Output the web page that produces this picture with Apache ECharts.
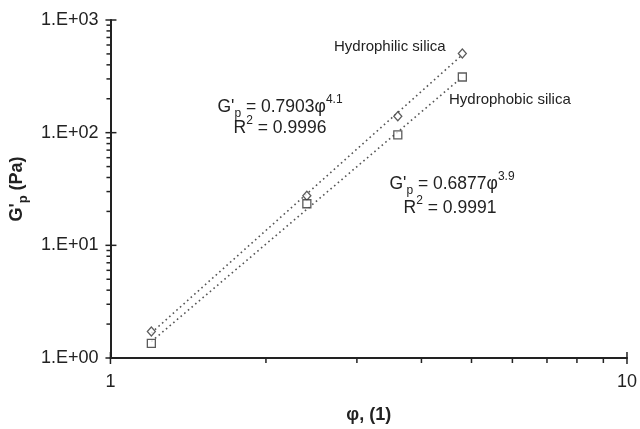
<!DOCTYPE html>
<html>
<head>
<meta charset="utf-8">
<script src="https://cdn.jsdelivr.net/npm/echarts@6/dist/echarts.min.js"></script>
<style>html,body{margin:0;padding:0;background:#fff}#c{width:640px;height:429px}</style>
</head>
<body>
<div id="c"></div>
<script>
// ---- data ----
const phi = [1.2, 2.4, 3.6, 4.8];
const hydrophilic = [1.72, 27.5, 140, 505];
const hydrophobic = [1.35, 23.4, 95.5, 312];
// trend-line end points (as drawn)
const fitPhi = [1.2, 4.8];
const fitHydrophilic = [1.67, 491];
const fitHydrophobic = [1.40, 312];
// ticks
const xMajor = [1, 10];
const xMinor = [2, 3, 4, 5, 6, 7, 8, 9];
const yMajor = [1, 10, 100, 1000];
const yMinor = [2,3,4,5,6,7,8,9, 20,30,40,50,60,70,80,90, 200,300,400,500,600,700,800,900];
const yTickLabels = ['1.E+00', '1.E+01', '1.E+02', '1.E+03'];
const xTickLabels = ['1', '10'];

const FONT = '"Liberation Sans", Arial, sans-serif';
const INK = '#222';

const chart = echarts.init(document.getElementById('c'), null, {renderer: 'canvas'});

function tickSeries(data, kind) {
  return {
    type: 'custom',
    silent: true,
    clip: false,
    z: 5,
    data: data,
    renderItem: function (params, api) {
      const p = api.coord([api.value(0), api.value(1)]);
      let shape;
      if (kind === 'xMajor') shape = {x1: p[0], y1: p[1] - 6, x2: p[0], y2: p[1] + 6};
      else if (kind === 'xMinor') shape = {x1: p[0], y1: p[1], x2: p[0], y2: p[1] + 5};
      else if (kind === 'yMajor') shape = {x1: p[0] - 5, y1: p[1], x2: p[0] + 6, y2: p[1]};
      else shape = {x1: p[0] - 4, y1: p[1], x2: p[0], y2: p[1]};
      return {type: 'line', shape: shape, style: {stroke: INK, lineWidth: 1.5}};
    }
  };
}

const EQ = 17.5;
const supText = {fontSize: 12, fontFamily: FONT, color: INK, lineHeight: 14, verticalAlign: 'top'};
const subText = {fontSize: 12, fontFamily: FONT, color: INK, lineHeight: 14, verticalAlign: 'bottom'};

function txt(x, y, text, rich, align, size) {
  return {
    type: 'text', x: x, y: y, z: 10,
    style: {
      text: text, rich: rich, align: align || 'left', verticalAlign: 'middle',
      fontSize: size || 15, fontFamily: FONT, fill: INK
    }
  };
}
const eqRich = {n: {fontSize: EQ, fontFamily: FONT, color: INK, lineHeight: 26}, sup: supText, sub: subText};

const option = {
  animation: false,
  backgroundColor: '#fff',
  grid: {left: 98, right: 11, top: 20, bottom: 65, containLabel: false},
  xAxis: {
    type: 'log', logBase: 10, min: 1, max: 10,
    axisLine: {show: true, lineStyle: {color: INK, width: 2}},
    axisTick: {show: false},
    splitLine: {show: false},
    minorTick: {show: false},
    axisLabel: {
      fontSize: 18, fontFamily: FONT, color: INK, margin: 15,
      showMinLabel: true, showMaxLabel: true,
      formatter: function (v) { return xTickLabels[Math.round(Math.log10(v))]; }
    },
    name: 'φ, (1)', nameLocation: 'middle', nameGap: 48,
    nameTextStyle: {fontSize: 18, fontWeight: 'bold', fontFamily: FONT, color: INK}
  },
  yAxis: {
    type: 'log', logBase: 10, min: 1, max: 1000,
    axisLine: {show: true, lineStyle: {color: INK, width: 2}},
    axisTick: {show: false},
    splitLine: {show: false},
    minorTick: {show: false},
    axisLabel: {
      fontSize: 18, fontFamily: FONT, color: INK, margin: 12,
      showMinLabel: true, showMaxLabel: true,
      formatter: function (v) { return yTickLabels[Math.round(Math.log10(v))]; }
    },
    name: "{a|G'}{s|p}{a| (Pa)}", nameLocation: 'middle', nameGap: 66, nameRotate: 90,
    nameTextStyle: {
      rich: {
        a: {fontSize: 18, fontWeight: 'bold', fontFamily: FONT, color: INK, lineHeight: 26},
        s: {fontSize: 13, fontWeight: 'bold', fontFamily: FONT, color: INK, lineHeight: 14, verticalAlign: 'bottom'}
      }
    }
  },
  series: [
    {
      name: 'Hydrophilic fit', type: 'line', showSymbol: false, silent: true, z: 2,
      data: fitPhi.map((x, i) => [x, fitHydrophilic[i]]),
      lineStyle: {color: '#555', width: 1.6, type: [1.6, 3.2]}
    },
    {
      name: 'Hydrophobic fit', type: 'line', showSymbol: false, silent: true, z: 2,
      data: fitPhi.map((x, i) => [x, fitHydrophobic[i]]),
      lineStyle: {color: '#555', width: 1.6, type: [1.6, 3.2]}
    },
    {
      name: 'Hydrophilic silica', type: 'scatter', z: 4,
      symbol: 'diamond', symbolSize: [8, 9],
      data: phi.map((x, i) => [x, hydrophilic[i]]),
      itemStyle: {color: '#fff', borderColor: '#333', borderWidth: 1.3}
    },
    {
      name: 'Hydrophobic silica', type: 'scatter', z: 4,
      symbol: 'rect', symbolSize: 8,
      data: phi.map((x, i) => [x, hydrophobic[i]]),
      itemStyle: {color: '#fff', borderColor: '#333', borderWidth: 1.3}
    },
    tickSeries(xMajor.map(v => [v, 1]), 'xMajor'),
    tickSeries(xMinor.map(v => [v, 1]), 'xMinor'),
    tickSeries(yMajor.map(v => [1, v]), 'yMajor'),
    tickSeries(yMinor.map(v => [1, v]), 'yMinor')
  ],
  graphic: [
    txt(334, 47, 'Hydrophilic silica', null, 'left', 15),
    txt(449, 100, 'Hydrophobic silica', null, 'left', 15),
    txt(280, 107, "{n|G'}{sub|p}{n| = 0.7903φ}{sup|4.1}", eqRich, 'center'),
    txt(280, 128, "{n|R}{sup|2}{n| = 0.9996}", eqRich, 'center'),
    txt(452, 184, "{n|G'}{sub|p}{n| = 0.6877φ}{sup|3.9}", eqRich, 'center'),
    txt(450, 208, "{n|R}{sup|2}{n| = 0.9991}", eqRich, 'center')
  ]
};
chart.setOption(option);
</script>
</body>
</html>
